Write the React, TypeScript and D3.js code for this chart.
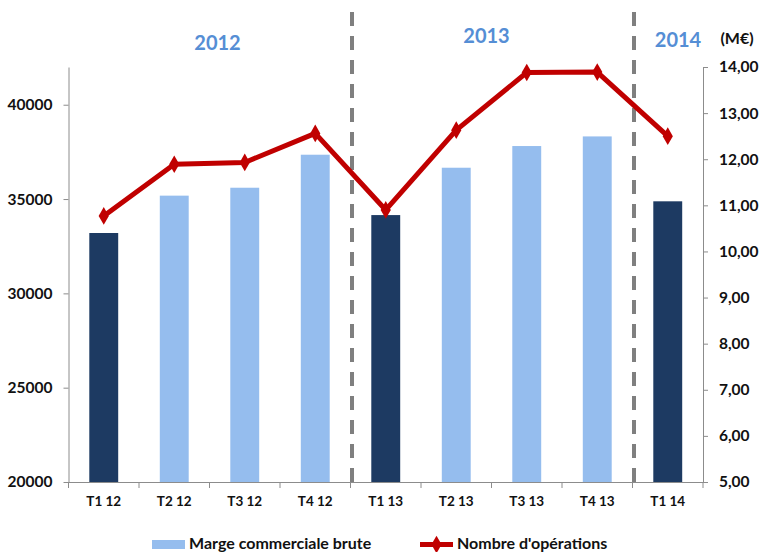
import { useEffect, useRef } from 'react';
import * as d3 from 'd3';

const categories = ['T1 12', 'T2 12', 'T3 12', 'T4 12', 'T1 13', 'T2 13', 'T3 13', 'T4 13', 'T1 14'];
const marge = [33200, 35180, 35600, 37350, 34150, 36660, 37810, 38320, 34880];
const operations = [10.77, 11.89, 11.93, 12.56, 10.9, 12.63, 13.88, 13.89, 12.5];
const highlighted = ['T1 12', 'T1 13', 'T1 14'];
const leftTicks = [20000, 25000, 30000, 35000, 40000];
const rightTicks = [5, 6, 7, 8, 9, 10, 11, 12, 13, 14];
const yearLabels = [
  { year: '2012', from: 'T1 12', to: 'T4 12' },
  { year: '2013', from: 'T1 13', to: 'T4 13' },
  { year: '2014', from: 'T1 14', to: 'T1 14' },
];
const separators = ['T1 13', 'T1 14'];

const FONT = 'Lato, "Open Sans", sans-serif';
const DARK = '#1d3a62';
const LIGHT = '#95bdee';
const RED = '#c00000';

export default function App() {
  const svgRef = useRef<SVGSVGElement>(null);

  useEffect(() => {
    if (!svgRef.current) return;
    const svg = d3.select(svgRef.current);
    svg.selectAll('*').remove();

    const left = 68.5;
    const right = 703;
    const top = 67;
    const bottom = 482;

    const x = d3.scaleBand<string>().domain(categories).range([left, right]);
    const yL = d3.scaleLinear().domain([20000, 42000]).range([bottom, top]);
    const yR = d3.scaleLinear().domain([5, 14]).range([bottom, top]);

    // bars
    svg.append('g')
      .selectAll('rect')
      .data(categories)
      .join('rect')
      .attr('x', (d) => x(d)! + x.bandwidth() * 0.295)
      .attr('width', x.bandwidth() * 0.41)
      .attr('y', (d, i) => yL(marge[i]))
      .attr('height', (d, i) => bottom - yL(marge[i]))
      .attr('fill', (d) => (highlighted.includes(d) ? DARK : LIGHT));

    // left axis
    const gl = svg.append('g')
      .attr('transform', `translate(${left},0)`)
      .call(d3.axisLeft(yL).tickValues(leftTicks).tickSize(5).tickSizeOuter(0).tickFormat((d) => String(d)));
    gl.select('.domain').attr('stroke', '#8c8c8c');
    gl.selectAll('line').attr('stroke', '#8c8c8c');
    gl.selectAll('text')
      .attr('fill', '#111')
      .attr('font-family', FONT)
      .attr('font-weight', 'bold')
      .attr('font-size', 15.5)
      .attr('x', -16);

    // right axis
    const gr = svg.append('g')
      .attr('transform', `translate(${right},0)`)
      .call(d3.axisRight(yR).tickValues(rightTicks).tickSize(5).tickSizeOuter(0)
        .tickFormat((d) => (d as number).toFixed(2).replace('.', ',')));
    gr.select('.domain').attr('stroke', '#8c8c8c');
    gr.selectAll('line').attr('stroke', '#8c8c8c');
    gr.selectAll('text')
      .attr('fill', '#111')
      .attr('font-family', FONT)
      .attr('font-weight', 'bold')
      .attr('font-size', 15.5)
      .attr('x', 16);

    // bottom axis
    const gb = svg.append('g')
      .attr('transform', `translate(0,${bottom})`)
      .call(d3.axisBottom(x).tickSize(0).tickSizeOuter(0));
    gb.select('.domain').attr('stroke', '#8c8c8c');
    gb.selectAll('text')
      .attr('fill', '#111')
      .attr('font-family', FONT)
      .attr('font-weight', 'bold')
      .attr('font-size', 13.5)
      .attr('dy', '0.71em')
      .attr('y', 14);
    gb.selectAll('.sep')
      .data(categories.concat(['end']))
      .join('line')
      .attr('class', 'sep')
      .attr('x1', (d, i) => left + i * x.step())
      .attr('x2', (d, i) => left + i * x.step())
      .attr('y1', 0)
      .attr('y2', 6)
      .attr('stroke', '#8c8c8c');

    // dashed separators
    svg.append('g')
      .selectAll('line')
      .data(separators)
      .join('line')
      .attr('x1', (d) => x(d)! + 1.5)
      .attr('x2', (d) => x(d)! + 1.5)
      .attr('y1', 12)
      .attr('y2', bottom)
      .attr('stroke', '#7f7f7f')
      .attr('stroke-width', 4)
      .attr('stroke-dasharray', '14,10');

    // line
    const line = d3.line<number>()
      .x((d, i) => x(categories[i])! + x.bandwidth() / 2)
      .y((d) => yR(d));
    svg.append('path')
      .datum(operations)
      .attr('d', line)
      .attr('fill', 'none')
      .attr('stroke', RED)
      .attr('stroke-width', 5)
      .attr('stroke-linejoin', 'round');

    const diamond = d3.symbol().type(d3.symbolDiamond).size(90);
    svg.append('g')
      .selectAll('path')
      .data(operations)
      .join('path')
      .attr('d', diamond)
      .attr('transform', (d, i) => `translate(${x(categories[i])! + x.bandwidth() / 2},${yR(d)})`)
      .attr('fill', RED);

    // year labels
    svg.append('g')
      .selectAll('text')
      .data(yearLabels)
      .join('text')
      .attr('x', (d) => d.year === '2014' ? 678 : (x(d.from)! + x(d.to)! + x.bandwidth()) / 2 + (d.year === '2013' ? -5 : 8))
      .attr('y', (d) => (d.year === '2012' ? 50 : d.year === '2013' ? 43 : 47))
      .attr('text-anchor', 'middle')
      .attr('font-family', FONT)
      .attr('font-weight', 'bold')
      .attr('font-size', 20)
      .attr('fill', '#558ed5')
      .text((d) => d.year);

    svg.append('text')
      .attr('x', 737)
      .attr('y', 44)
      .attr('text-anchor', 'middle')
      .attr('font-family', FONT)
      .attr('font-weight', 'bold')
      .attr('font-size', 16)
      .attr('fill', '#111')
      .text('(M€)');

    // legend
    const lg = svg.append('g').attr('font-family', FONT).attr('font-weight', 'bold').attr('font-size', 16).attr('fill', '#111');
    lg.append('rect').attr('x', 152).attr('y', 540).attr('width', 33).attr('height', 9).attr('fill', LIGHT);
    lg.append('text').attr('x', 189).attr('y', 549).text('Marge commerciale brute');
    lg.append('line').attr('x1', 420).attr('x2', 453).attr('y1', 544.5).attr('y2', 544.5).attr('stroke', RED).attr('stroke-width', 5);
    lg.append('path').attr('d', diamond).attr('transform', 'translate(436.5,544.5)').attr('fill', RED);
    lg.append('text').attr('x', 457).attr('y', 549).text("Nombre d'opérations");
  }, []);

  return (
    <svg
      ref={svgRef}
      width={760}
      height={552}
      style={{ position: 'absolute', left: 0, top: 0, background: '#fff' }}
    />
  );
}
